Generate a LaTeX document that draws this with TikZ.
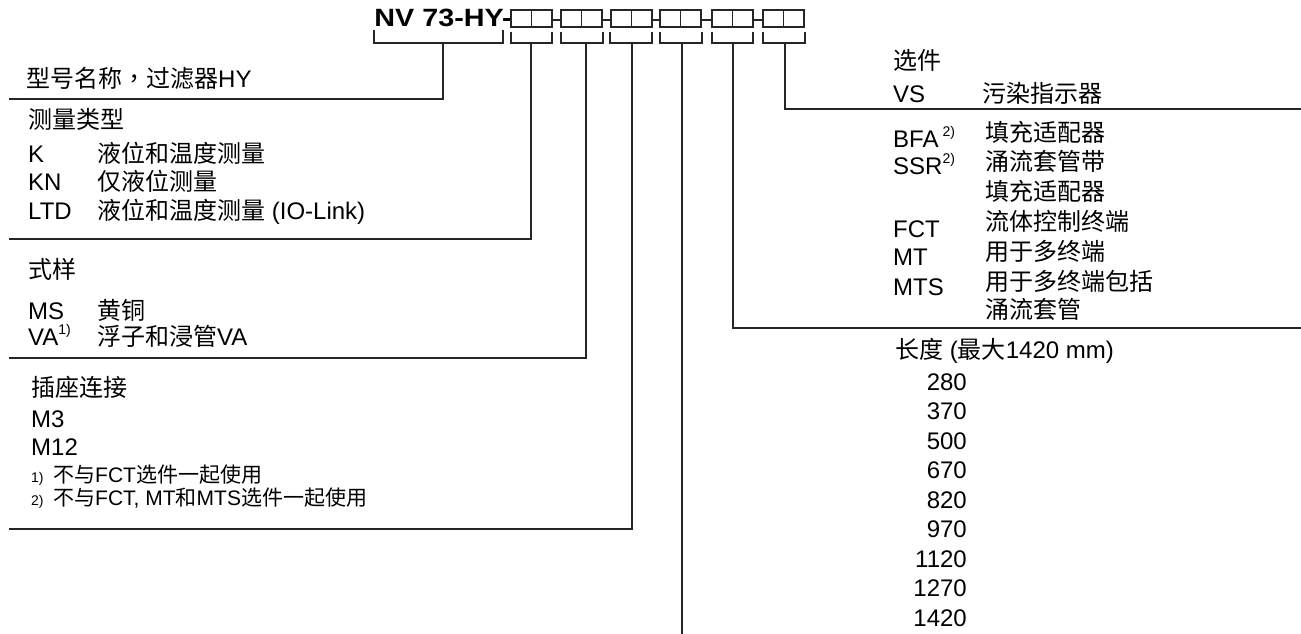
\documentclass[tikz,border=0pt]{standalone}
\usepackage{fontspec}
\setmainfont{Liberation Sans}
\newfontfamily\cjk{Noto Sans CJK SC}
\newfontfamily\cjktc{Noto Sans CJK TC}
\newcommand{\zh}[1]{{\cjk #1}}
\newcommand{\supmark}[1]{\raisebox{0.45em}{\fontsize{14}{14}\selectfont #1}}
\begin{document}
\begin{tikzpicture}[x=1pt,y=-1pt,
  ln/.style={line width=1.5pt, draw=black!85},
  sq/.style={draw=black!85, line width=1.2pt},
  txt/.style={anchor=base west, inner sep=0pt, font=\fontsize{24}{29}\selectfont},
  num/.style={anchor=base east, inner sep=0pt, font=\fontsize{24}{29}\selectfont},
  fn/.style={anchor=base west, inner sep=0pt, font=\fontsize{21}{25}\selectfont},
  fnm/.style={anchor=base west, inner sep=0pt, font=\fontsize{14}{14}\selectfont},
  ttl/.style={anchor=base east, inner sep=0pt, font=\fontsize{25}{30}\selectfont\bfseries},
]
\useasboundingbox (0,0) rectangle (1301,634);

% title
\node[ttl] (title) at (512,27) {\scalebox{1.15}[1]{NV 73-HY-}};
\foreach \g in {511,561,611,660,712,763} {
  \draw[sq] (\g,10) rectangle +(20.5,17);
  \draw[sq] ({\g+20.5},10) rectangle +(20.5,17);
}
\foreach \a/\b in {552/561,603/611,652/660,702/712,753/763} {
  \draw[line width=2.5pt, black!85] (\a,20) -- (\b,20);
}

% brackets
\draw[ln] (374,30) |- (503,43) -- (503,30);
\coordinate (b0) at (443,43);
\foreach \i/\a/\b/\c in {1/511/552/531, 2/561/603/586, 3/610/652/632, 4/660/702/682, 5/712/753/733, 6/763/805/785} {
  \draw[ln] (\a,32) |- (\b,43) -- (\b,32);
  \coordinate (b\i) at (\c,43);
}
\coordinate (e0) at (9,99);
\coordinate (e1) at (9,239);
\coordinate (e2) at (9,358);
\coordinate (e3) at (9,529);
\coordinate (e4) at (682,634);
\coordinate (e5) at (1301,328);
\coordinate (e6) at (1301,109);
\draw[ln] (b0) |- (e0);
\draw[ln] (b1) |- (e1);
\draw[ln] (b2) |- (e2);
\draw[ln] (b3) |- (e3);
\draw[ln] (b4) -- (e4);
\draw[ln] (b5) |- (e5);
\draw[ln] (b6) |- (e6);

% left column
\node[txt] (t0) at (26,88) {\zh{型号名称}{\cjktc ，}\zh{过滤器}HY};
\node[txt] (t1) at (28,128) {\zh{测量类型}};
\node[txt] (k1) at (28,162) {K};
\node[txt] (k1d) at (97,162) {\zh{液位和温度测量}};
\node[txt] (k2) at (28,190) {KN};
\node[txt] (k2d) at (97,190) {\zh{仅液位测量}};
\node[txt] (k3) at (28,219) {LTD};
\node[txt] (k3d) at (97,219) {\zh{液位和温度测量} (IO-Link)};
\node[txt] (t2) at (28,278) {\zh{式样}};
\node[txt] (m1) at (28,319) {MS};
\node[txt] (m1d) at (97,319) {\zh{黄铜}};
\node[txt] (m2) at (28,345) {VA\supmark{1)}};
\node[txt] (m2d) at (97,345) {\zh{浮子和浸管}VA};
\node[txt] (t3) at (31,396) {\zh{插座连接}};
\node[txt] (c1) at (31,427) {M3};
\node[txt] (c2) at (31,455) {M12};
\node[fnm] (f1m) at (31,482) {1)};
\node[fn] (f1) at (53,482) {\zh{不与}FCT\zh{选件一起使用}};
\node[fnm] (f2m) at (31,505) {2)};
\node[fn] (f2) at (53,505) {\zh{不与}FCT, MT\zh{和}MTS\zh{选件一起使用}};

% right column
\node[txt] (t5) at (893,70) {\zh{选件}};
\node[txt] (o1) at (893,102) {VS};
\node[txt] (o1d) at (982,102) {\zh{污染指示器}};
\node[txt] (o2) at (893,147) {BFA\,\supmark{2)}};
\node[txt] (o2d) at (985,141) {\zh{填充适配器}};
\node[txt] (o3) at (893,174) {SSR\supmark{2)}};
\node[txt] (o3d) at (985,170) {\zh{涌流套管带}};
\node[txt] (o3e) at (985,200) {\zh{填充适配器}};
\node[txt] (o4) at (893,237) {FCT};
\node[txt] (o4d) at (985,230) {\zh{流体控制终端}};
\node[txt] (o5) at (893,265) {MT};
\node[txt] (o5d) at (985,260) {\zh{用于多终端}};
\node[txt] (o6) at (893,295) {MTS};
\node[txt] (o6d) at (985,290) {\zh{用于多终端包括}};
\node[txt] (o6e) at (985,318) {\zh{涌流套管}};
\node[txt] (t6) at (895,358) {\zh{长度} (\zh{最大}1420 mm)};
\foreach \v [count=\i from 0] in {280,370,500,670,820,970,1120,1270,1420} {
  \node[num] (n\i) at (967,{390+29.5*\i}) {\v};
}
\end{tikzpicture}
\end{document}
